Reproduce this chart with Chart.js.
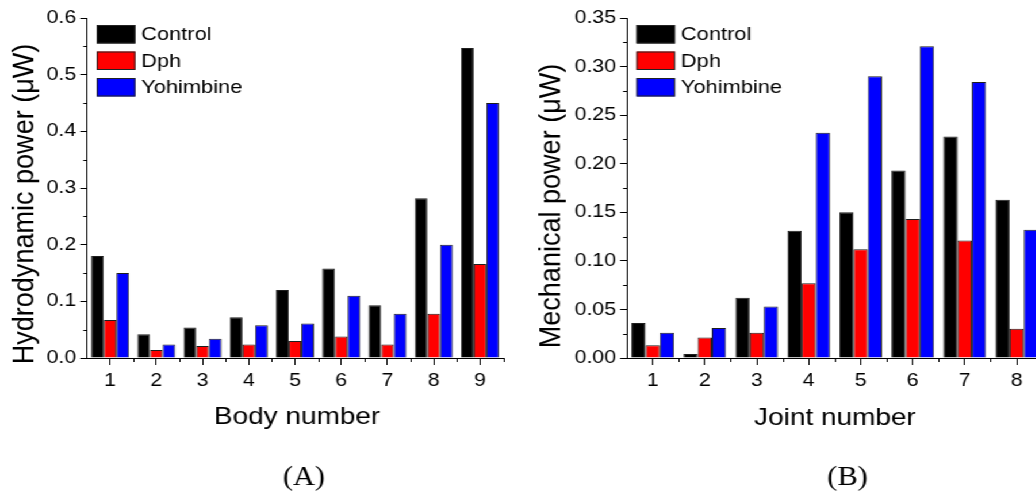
<!DOCTYPE html>
<html>
<head>
<meta charset="utf-8">
<script src="https://cdn.jsdelivr.net/npm/chart.js@4/dist/chart.umd.min.js"></script>
<style>
  html, body { margin: 0; padding: 0; background: #fff; overflow: hidden; width: 1036px; height: 493px; }
  /* the figure is laid out narrow and widened as a whole */
  #figure { position: absolute; left: 0; top: 0; width: 901px; height: 493px;
            transform: scaleX(1.15); transform-origin: 0 0; }
  canvas { position: absolute; top: 0; }
  #panelA { left: 0; }
  #panelB { left: 452px; }
</style>
</head>
<body>
<div id="figure">
  <canvas id="panelA" width="452" height="493"></canvas>
  <canvas id="panelB" width="470" height="493"></canvas>
</div>
<script>
// ---- data ----
const seriesNames = ['Control', 'Dph', 'Yohimbine'];
const seriesColors = ['#000000', '#ff0000', '#0000ff'];

const bodyNumbers = ['1', '2', '3', '4', '5', '6', '7', '8', '9'];
const hydroControl   = [0.180, 0.042, 0.054, 0.072, 0.120, 0.158, 0.093, 0.282, 0.547];
const hydroDph       = [0.067, 0.014, 0.021, 0.024, 0.030, 0.038, 0.024, 0.078, 0.166];
const hydroYohimbine = [0.150, 0.024, 0.034, 0.058, 0.061, 0.110, 0.078, 0.200, 0.450];

const jointNumbers = ['1', '2', '3', '4', '5', '6', '7', '8'];
const mechControl   = [0.036, 0.004, 0.062, 0.131, 0.150, 0.193, 0.228, 0.163];
const mechDph       = [0.013, 0.021, 0.026, 0.077, 0.112, 0.143, 0.121, 0.030];
const mechYohimbine = [0.026, 0.031, 0.053, 0.232, 0.290, 0.321, 0.284, 0.132];

const SANS = '"Liberation Sans", Arial, sans-serif';
const SERIF = '"Liberation Serif", "Times New Roman", serif';

// Minor ticks, inset legend, axis titles and panel letter
const decor = {
  id: 'decor',
  afterDraw(chart, args, o) {
    const ctx = chart.ctx, area = chart.chartArea;
    const xs = chart.scales.x, ys = chart.scales.y;
    ctx.save();
    ctx.strokeStyle = '#000';
    ctx.lineWidth = 1;
    ctx.beginPath();
    const n = Math.round((ys.max - ys.min) / o.yMinor);
    for (let k = 1; k < n; k += 2) {
      const y = Math.round(ys.getPixelForValue(ys.min + k * o.yMinor)) + 0.5;
      ctx.moveTo(area.left - 3.2, y);
      ctx.lineTo(area.left, y);
    }
    for (let i = 1; i <= xs.ticks.length; i++) {
      const x = Math.round(xs.getPixelForValue(i - 0.5)) + 0.5;
      ctx.moveTo(x, area.bottom);
      ctx.lineTo(x, area.bottom + 4);
    }
    ctx.stroke();

    // legend inside the plot
    ctx.font = '19px ' + SANS;
    ctx.textBaseline = 'middle';
    ctx.textAlign = 'left';
    chart.data.datasets.forEach((ds, i) => {
      const bx = area.left + 8.5, by = area.top + 7 + i * 26.5;
      ctx.fillStyle = ds.backgroundColor;
      ctx.fillRect(bx, by, 33.6, 18.5);
      ctx.strokeStyle = '#222';
      ctx.strokeRect(bx + 0.5, by + 0.5, 32.6, 17.5);
      ctx.fillStyle = '#000';
      ctx.fillText(ds.label, bx + 38.6, by + 9.8);
    });

    // axis titles
    ctx.fillStyle = '#000';
    ctx.textAlign = 'center';
    ctx.textBaseline = 'alphabetic';
    ctx.font = '24.3px ' + SANS;
    ctx.fillText(o.xTitle, o.xTitlePos[0], o.xTitlePos[1]);

    ctx.save();
    ctx.translate(o.yTitlePos[0], o.yTitlePos[1]);
    ctx.rotate(-Math.PI / 2);
    ctx.scale(1.04, 1);
    ctx.font = '26px ' + SANS;
    ctx.fillText(o.yTitle, 0, 0);
    ctx.restore();

    ctx.font = '26.5px ' + SERIF;
    ctx.fillText(o.panel, o.panelPos[0], o.panelPos[1]);
    ctx.restore();
  }
};

function makeDatasets(values) {
  return values.map((v, i) => ({
    label: seriesNames[i],
    data: v,
    backgroundColor: seriesColors[i],
    borderColor: '#1e1e1e',
    borderWidth: 1,
    categoryPercentage: 0.82,
    barPercentage: 1.0
  }));
}

function makeChart(id, cfg) {
  return new Chart(document.getElementById(id), {
    type: 'bar',
    data: { labels: cfg.labels, datasets: makeDatasets(cfg.series) },
    options: {
      responsive: false,
      animation: false,
      devicePixelRatio: 1,
      layout: { padding: { left: 0, top: 18, right: cfg.padRight, bottom: 0 } },
      plugins: {
        legend: { display: false },
        tooltip: { enabled: false },
        decor: cfg.decor
      },
      scales: {
        x: {
          afterFit(s) { s.height = 135; },
          grid: { display: true, drawOnChartArea: false, drawTicks: true, offset: false,
                  tickLength: 7, tickColor: '#000', tickWidth: 1 },
          border: { display: true, color: '#000', width: 1 },
          ticks: { color: '#000', font: { family: SANS, size: 18.5 }, padding: 5,
                   maxRotation: 0, autoSkip: false }
        },
        y: {
          min: 0, max: cfg.yMax,
          afterFit(s) { s.width = cfg.axisLeft; },
          grid: { display: true, drawOnChartArea: false, drawTicks: true,
                  tickLength: 5.8, tickColor: '#000', tickWidth: 1 },
          border: { display: true, color: '#000', width: 1 },
          ticks: { stepSize: cfg.yStep, color: '#000', font: { family: SANS, size: 18.5 }, padding: 3.5,
                   callback: v => Number(v).toFixed(cfg.digits) }
        }
      }
    },
    plugins: [decor]
  });
}

makeChart('panelA', {
  labels: bodyNumbers,
  series: [hydroControl, hydroDph, hydroYohimbine],
  yMax: 0.6, yStep: 0.1, digits: 1,
  axisLeft: 75.6, padRight: 14.5,
  decor: { yMinor: 0.05, xTitle: 'Body number', xTitlePos: [258.3, 424],
           yTitle: 'Hydrodynamic power (\u03bcW)', yTitlePos: [29, 204],
           panel: '(A)', panelPos: [264.3, 485] }
});

makeChart('panelB', {
  labels: jointNumbers,
  series: [mechControl, mechDph, mechYohimbine],
  yMax: 0.35, yStep: 0.05, digits: 2,
  axisLeft: 93, padRight: 15.3,
  decor: { yMinor: 0.025, xTitle: 'Joint number', xTitlePos: [274.1, 425],
           yTitle: 'Mechanical power (\u03bcW)', yTitlePos: [35, 206],
           panel: '(B)', panelPos: [285, 485] }
});
</script>
</body>
</html>
